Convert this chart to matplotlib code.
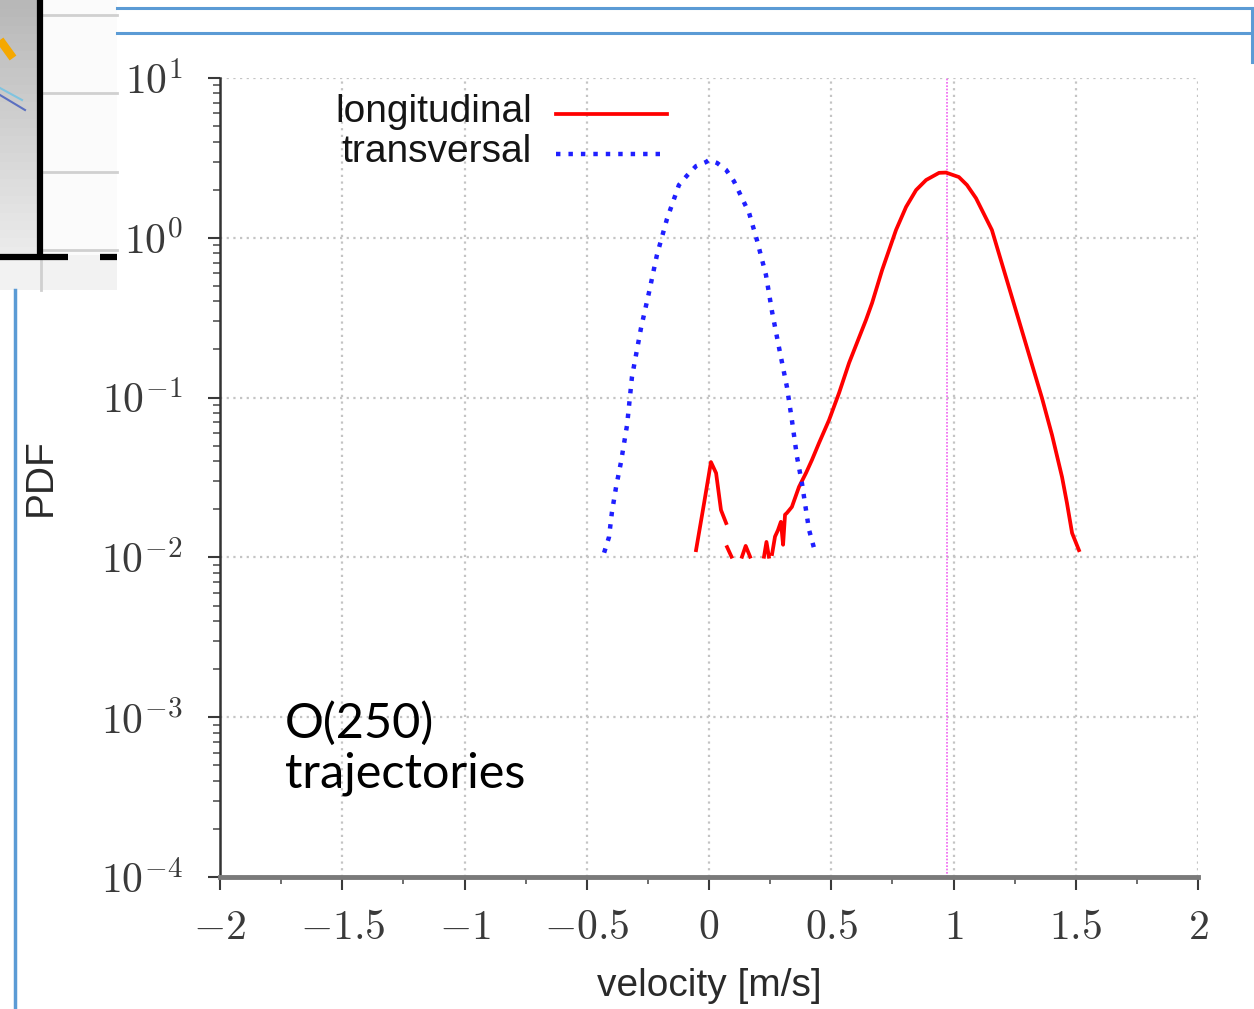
import numpy as np
import matplotlib
matplotlib.use('Agg')
import matplotlib.pyplot as plt
from matplotlib.patches import Rectangle

plt.rcParams['mathtext.fontset'] = 'cm'

# PDF of the transversal velocity (dotted blue)
trans_v = [-0.429, -0.409, -0.397, -0.380, -0.360, -0.335, -0.315, -0.278,
           -0.245, -0.213, -0.172, -0.123, -0.090, -0.053, -0.012, 0.0,
           0.033, 0.070, 0.102, 0.164, 0.196, 0.233, 0.258, 0.286, 0.319,
           0.339, 0.360, 0.380, 0.409, 0.434]
trans_pdf = [0.0107, 0.0134, 0.0192, 0.0276, 0.0395, 0.0675, 0.135, 0.273,
             0.458, 0.780, 1.31, 2.14, 2.45, 2.81, 2.98, 3.07,
             2.94, 2.66, 2.26, 1.43, 0.968, 0.585, 0.344, 0.207, 0.116,
             0.0724, 0.0425, 0.0292, 0.0149, 0.0108]

# PDF of the longitudinal velocity (solid red), nan = empty bins
long_v = [-0.053, -0.020, 0.008, 0.029, 0.049, 0.070, np.nan,
          0.074, 0.092, np.nan,
          0.135, 0.150, 0.168, np.nan,
          0.225, 0.235, 0.245, np.nan,
          0.258, 0.270, 0.282, 0.294, 0.303, 0.311, 0.319, 0.339, 0.368,
          0.397, 0.421, 0.450, 0.491, 0.532, 0.573, 0.642, 0.667, 0.708,
          0.765, 0.806, 0.847, 0.888, 0.941, 0.969, 1.022, 1.055, 1.092,
          1.157, 1.181, 1.205, 1.231, 1.266, 1.307, 1.362, 1.403, 1.444,
          1.464, 1.485, 1.513]
long_pdf = [0.0111, 0.0219, 0.0395, 0.0337, 0.0198, 0.0164, np.nan,
            0.0116, 0.0101, np.nan,
            0.0101, 0.0118, 0.0101, np.nan,
            0.0101, 0.0125, 0.0101, np.nan,
            0.0105, 0.0135, 0.0148, 0.0167, 0.0120, 0.0185, 0.0190, 0.0207,
            0.0276, 0.0338, 0.0407, 0.0520, 0.0724, 0.107, 0.165, 0.306,
            0.391, 0.628, 1.12, 1.56, 1.99, 2.30, 2.55, 2.56, 2.40, 2.14,
            1.77, 1.12, 0.843, 0.635, 0.467, 0.309, 0.190, 0.0993, 0.0583,
            0.0318, 0.0219, 0.0142, 0.0111]

mean_long = 0.975

xticks = [-2, -1.5, -1, -0.5, 0, 0.5, 1, 1.5, 2]
xtick_labels = [r'$-2$', r'$-1.5$', r'$-1$', r'$-0.5$', r'$0$', r'$0.5$',
                r'$1$', r'$1.5$', r'$2$']
yexp = [-4, -3, -2, -1, 0, 1]

W, H = 1254, 1009
fig = plt.figure(figsize=(W/100, H/100), dpi=100)

# slide decorations (pixel coordinates)
deco = fig.add_axes([0, 0, 1, 1])
deco.set_xlim(0, W)
deco.set_ylim(H, 0)
deco.axis('off')
sc = '#5b9bd5'
# cropped neighbouring picture in the top left corner
for i in range(30):
    g = 0.72 + 0.2*i/29
    deco.add_patch(Rectangle((0, i*255/30), 38, 255/30 + 1, color=(g, g, g), lw=0))
deco.add_patch(Rectangle((0, 255), 117, 35, color='#f2f2f2', lw=0))
deco.add_patch(Rectangle((44, 0), 73, 255, color='#fbfbfb', lw=0))
for yy in [15, 93, 172, 250]:
    deco.plot([44, 117], [yy, yy], color='#d0d0d0', lw=2)
deco.plot([41, 41], [258, 290], color='#d0d0d0', lw=2)
deco.plot([0, 13], [40, 58], color='#f5a800', lw=6, solid_capstyle='butt')
deco.plot([0, 22], [88, 100], color='#7fc4e0', lw=1.5)
deco.plot([0, 25], [95, 110], color='#5b6fc0', lw=1.5)
deco.plot([40, 40], [0, 256], color='black', lw=4.5)
deco.plot([0, 68], [257, 257], color='black', lw=4.5, solid_capstyle='butt')
deco.plot([100, 117], [257, 257], color='black', lw=4.5, solid_capstyle='butt')
# slide frame lines
deco.plot([117, 1252], [8, 8], color=sc, lw=2.2)
deco.plot([117, 1252], [33, 33], color=sc, lw=2.2)
deco.plot([1252, 1252], [8, 62], color=sc, lw=2.2)
deco.plot([15, 15], [290, H], color=sc, lw=2.5)

# main chart
ax = fig.add_axes([220/W, 1 - 877/H, 978/W, 799/H])
ax.set_facecolor('none')
ax.set_yscale('log')
ax.set_xlim(-2, 2)
ax.set_ylim(1e-4, 10)

ax.axvline(mean_long, color='#f060f0', lw=1.2, ls=(0, (1, 1)), zorder=2)
ax.plot(long_v, long_pdf, color='#ff0000', lw=2.7, zorder=3)
ax.plot(trans_v, trans_pdf, color='#1f1fff', lw=3.2, ls=(0, (1, 1.8)), zorder=3)

ax.set_xticks(xticks)
ax.set_xticklabels(xtick_labels)
ax.set_xticks(np.arange(-2, 2.01, 0.25), minor=True)
ax.set_yticks([10.0**e for e in yexp])
ax.set_yticklabels([r'$10^{%d}$' % e for e in yexp])
ax.yaxis.set_minor_locator(matplotlib.ticker.LogLocator(base=10, subs=np.arange(2, 10)))
ax.yaxis.set_minor_formatter(matplotlib.ticker.NullFormatter())
ax.tick_params(axis='both', which='major', direction='out', length=9, width=1.5,
               colors='#3a3a3a', labelsize=30)
ax.tick_params(axis='both', which='minor', direction='out', length=5, width=1.2,
               colors='#555555')
ax.tick_params(axis='x', which='major', pad=12)
ax.tick_params(axis='y', which='major', pad=18)

ax.grid(True, which='major', color='#c4c4c4', ls=(0, (1, 2)), lw=1.6)
ax.spines['top'].set_visible(False)
ax.spines['right'].set_visible(False)
ax.spines['left'].set_color('#333333')
ax.spines['left'].set_linewidth(1.8)
ax.spines['bottom'].set_color('#7a7a7a')
ax.spines['bottom'].set_linewidth(3.5)

lab_font = dict(family='Liberation Sans', size=28, color='#2a2a2a')
ax.set_xlabel('velocity [m/s]', labelpad=14, **lab_font)
ax.set_ylabel('PDF', labelpad=30, **lab_font)

# gnuplot-style key: right-aligned text followed by line sample
key_font = dict(family='Liberation Sans', size=28, color='#151515')
ax.text(0.319, 0.958, 'longitudinal', transform=ax.transAxes, ha='right',
        va='center', **key_font)
ax.text(0.319, 0.908, 'transversal', transform=ax.transAxes, ha='right',
        va='center', **key_font)
ax.plot([0.344, 0.457], [0.955, 0.955], transform=ax.transAxes,
        color='#ff0000', lw=2.7)
ax.plot([0.344, 0.452], [0.905, 0.905], transform=ax.transAxes,
        color='#1f1fff', lw=3.2, ls=(0, (1, 1.8)))

ax.text(0.066, 0.22, 'O(250)\ntrajectories', transform=ax.transAxes,
        ha='left', va='top', family='Lato', size=35, color='black',
        linespacing=1.15)

fig.savefig('out.png', dpi=100)
